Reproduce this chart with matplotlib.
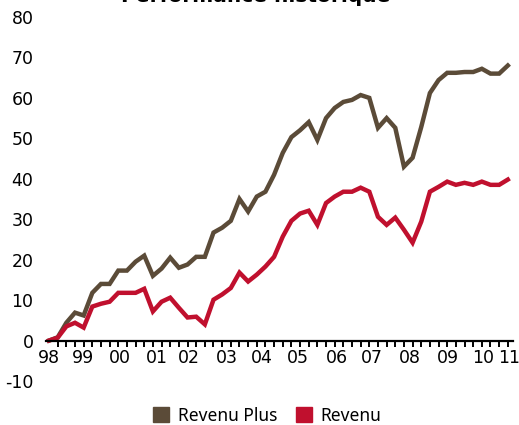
import matplotlib
matplotlib.use("Agg")
import matplotlib.pyplot as plt
from matplotlib.patches import Patch
import numpy as np

plt.rcParams['axes.unicode_minus'] = False

# quarterly readings (index = quarter since mid-98)
revenu_plus = [0, 0.8, 4.4, 6.9, 6.2, 11.8, 14, 14, 17.3, 17.3, 19.5, 21, 16, 17.8,
               20.5, 18, 18.8, 20.7, 20.7, 26.7, 27.9, 29.6, 35, 31.9, 35.6, 36.8, 41, 46.4,
               50.3, 52, 54, 49.6, 55, 57.5, 59, 59.5, 60.7, 60, 52.6, 55, 52.6, 43, 45.2,
               52.8, 61.2, 64.4, 66.2, 66.2, 66.4, 66.4, 67.2, 66, 66, 68]
revenu = [0, 0.7, 3.5, 4.4, 3.2, 8.4, 9.1, 9.6, 11.8, 11.8, 11.8, 12.8, 7.2, 9.6,
          10.6, 8.1, 5.7, 5.9, 4, 10.1, 11.4, 13, 16.8, 14.6, 16.3, 18.3, 20.7, 25.7,
          29.6, 31.4, 32.1, 28.6, 34, 35.6, 36.8, 36.8, 37.8, 36.8, 30.6, 28.6, 30.4, 27.4, 24.2,
          29.4, 36.8, 38, 39.3, 38.5, 39, 38.5, 39.3, 38.5, 38.5, 39.8]
year_labels = ['98', '99', '00', '01', '02', '03', '04', '05', '06', '07', '08', '09', '10', '11']
label_pos = [0, 3.9, 8.2, 12.5, 16.1, 20.6, 24.6, 28.8, 33.3, 37.3, 41.7, 46.1, 50.1, 53.2]

brown = '#5b4b38'
red = '#c0102e'
tick_font = 'DejaVu Sans'
font = 'Noto Sans'

fig = plt.figure(figsize=(5.19, 4.25), dpi=100)
ax = fig.add_axes([46/519, 1 - 381/425, 467/519, 364/425])

x = np.arange(len(revenu))
ax.plot(x, revenu_plus, color=brown, lw=3.2, solid_joinstyle='miter')
ax.plot(x, revenu, color=red, lw=3.2, solid_joinstyle='miter')

ax.set_xlim(-0.35, 53.6)
ax.set_ylim(-10, 80)
ax.set_yticks(range(-10, 81, 10))

for s in ['top', 'right', 'left']:
    ax.spines[s].set_visible(False)
ax.spines['bottom'].set_position(('data', 0))
ax.spines['bottom'].set_linewidth(1.6)

ax.set_xticks(label_pos)
ax.set_xticklabels(year_labels)
ax.set_xticks(x, minor=True)
ax.tick_params(axis='x', which='major', length=0, pad=6, labelsize=12.5)
ax.tick_params(axis='x', which='minor', length=4, width=1.4, direction='out')
ax.tick_params(axis='y', length=0, pad=9, labelsize=12.5)
for lab in ax.get_xticklabels() + ax.get_yticklabels():
    lab.set_fontfamily(tick_font)

fig.text(0.493, 1 - 1.5/425, 'Performance historique', ha='center', va='baseline',
         fontsize=14.5, fontweight='bold', family='DejaVu Sans')

handles = [Patch(color=brown, label='Revenu Plus'), Patch(color=red, label='Revenu')]
fig.legend(handles=handles, loc='lower center', bbox_to_anchor=(0.515, -0.036), ncol=2,
           frameon=False, prop={'family': font, 'size': 12.5}, handlelength=0.9,
           handleheight=0.9, handletextpad=0.5, columnspacing=1.1)

fig.savefig('out.png', dpi=100)
